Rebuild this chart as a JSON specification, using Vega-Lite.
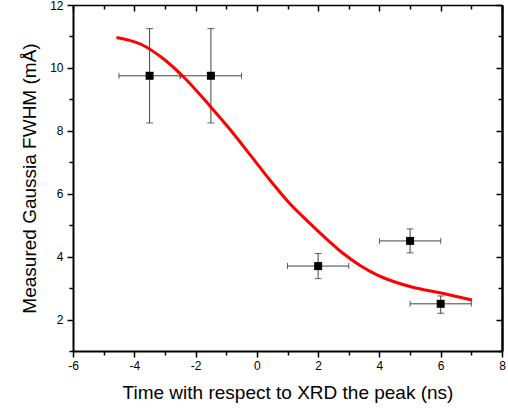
{
  "$schema": "https://vega.github.io/schema/vega-lite/v6.json",
  "width": 429,
  "height": 346,
  "autosize": "none",
  "padding": {"left": 73, "top": 5, "right": 6, "bottom": 64},
  "background": "white",
  "config": {"view": {"stroke": null}},
  "datasets": {
    "pts": [
      {"x": -3.5, "y": 9.75, "xlo": -4.5, "xhi": -2.5, "ylo": 8.25, "yhi": 11.25},
      {"x": -1.5, "y": 9.75, "xlo": -2.5, "xhi": -0.5, "ylo": 8.25, "yhi": 11.25},
      {"x": 2, "y": 3.7, "xlo": 1, "xhi": 3, "ylo": 3.3, "yhi": 4.1},
      {"x": 5, "y": 4.5, "xlo": 4, "xhi": 6, "ylo": 4.12, "yhi": 4.88},
      {"x": 6, "y": 2.5, "xlo": 5, "xhi": 7, "ylo": 2.2, "yhi": 2.75}
    ],
    "fit": [
      {"x": -4.58, "y": 10.97},
      {"x": -3.8, "y": 10.76},
      {"x": -3.0, "y": 10.25},
      {"x": -2.35, "y": 9.67},
      {"x": -1.54, "y": 8.8},
      {"x": -0.88, "y": 8.05},
      {"x": -0.23, "y": 7.25},
      {"x": 0.42, "y": 6.44},
      {"x": 1.08, "y": 5.68},
      {"x": 1.73, "y": 5.06},
      {"x": 2.28, "y": 4.56},
      {"x": 2.82, "y": 4.1},
      {"x": 3.37, "y": 3.72},
      {"x": 3.92, "y": 3.42},
      {"x": 4.46, "y": 3.21},
      {"x": 5.0, "y": 3.05},
      {"x": 5.5, "y": 2.94},
      {"x": 6.09, "y": 2.83},
      {"x": 7.02, "y": 2.62}
    ]
  },
  "resolve": {"axis": {"x": "independent", "y": "independent"}},
  "layer": [
    {
      "data": {"name": "pts"},
      "mark": {"type": "rule", "color": "#444444", "strokeWidth": 1},
      "encoding": {
        "x": {"field": "xlo", "type": "quantitative", "scale": {"domain": [-6, 8], "nice": false, "zero": false},
          "axis": {
            "orient": "bottom",
            "values": [-6, -5, -4, -3, -2, -1, 0, 1, 2, 3, 4, 5, 6, 7, 8],
            "labelExpr": "datum.value % 2 == 0 ? toString(datum.value) : ''",
            "labelOverlap": false,
            "labelFlush": false,
            "grid": false,
            "domainColor": "black",
            "domainWidth": 2,
            "tickColor": "black",
            "tickWidth": 1.5,
            "tickSize": {"condition": {"test": "datum.value % 2 == 0", "value": 6}, "value": 4},
            "labelFont": "Liberation Sans",
            "labelFontSize": 12,
            "labelColor": "black",
            "labelPadding": 3,
            "title": "Time with respect to XRD the peak (ns)",
            "titleFont": "Liberation Sans",
            "titleFontSize": 19,
            "titleFontWeight": "normal",
            "titleColor": "black",
            "titlePadding": 12
          }
        },
        "x2": {"field": "xhi"},
        "y": {"field": "y", "type": "quantitative", "scale": {"domain": [1, 12], "nice": false, "zero": false},
          "axis": {
            "orient": "left",
            "values": [1, 2, 3, 4, 5, 6, 7, 8, 9, 10, 11, 12],
            "labelExpr": "datum.value % 2 == 0 ? toString(datum.value) : ''",
            "labelOverlap": false,
            "labelFlush": false,
            "grid": false,
            "domainColor": "black",
            "domainWidth": 2,
            "tickColor": "black",
            "tickWidth": 1.5,
            "tickSize": {"condition": {"test": "datum.value % 2 == 0", "value": 6}, "value": 4},
            "labelFont": "Liberation Sans",
            "labelFontSize": 12,
            "labelColor": "black",
            "labelPadding": 4,
            "title": "Measured Gaussia FWHM (mÅ)",
            "titleFont": "Liberation Sans",
            "titleFontSize": 19,
            "titleFontWeight": "normal",
            "titleColor": "black",
            "titlePadding": 10
          }
        }
      }
    },
    {
      "data": {"name": "pts"},
      "mark": {"type": "rule", "color": "#444444", "strokeWidth": 1},
      "encoding": {
        "x": {"field": "x", "type": "quantitative", "scale": {"domain": [-6, 8], "nice": false, "zero": false},
          "axis": {
            "orient": "top",
            "values": [-6, -5, -4, -3, -2, -1, 0, 1, 2, 3, 4, 5, 6, 7, 8],
            "labels": false,
            "grid": false,
            "domainColor": "black",
            "domainWidth": 1.5,
            "tickColor": "black",
            "tickWidth": 1.5,
            "tickSize": {"condition": {"test": "datum.value % 2 == 0", "value": -6}, "value": -4},
            "title": null
          }
        },
        "y": {"field": "ylo", "type": "quantitative", "scale": {"domain": [1, 12], "nice": false, "zero": false},
          "axis": {
            "orient": "right",
            "values": [1, 2, 3, 4, 5, 6, 7, 8, 9, 10, 11, 12],
            "labels": false,
            "grid": false,
            "domainColor": "black",
            "domainWidth": 2.5,
            "tickColor": "black",
            "tickWidth": 1.5,
            "tickSize": {"condition": {"test": "datum.value % 2 == 0", "value": -6}, "value": -4},
            "title": null
          }
        },
        "y2": {"field": "yhi"}
      }
    },
    {
      "data": {"name": "pts"},
      "transform": [{"fold": ["xlo", "xhi"], "as": ["k", "xc"]}],
      "mark": {"type": "tick", "orient": "vertical", "color": "#222222", "thickness": 1, "size": 6},
      "encoding": {
        "x": {"field": "xc", "type": "quantitative", "axis": null},
        "y": {"field": "y", "type": "quantitative", "axis": null}
      }
    },
    {
      "data": {"name": "pts"},
      "transform": [{"fold": ["ylo", "yhi"], "as": ["k", "yc"]}],
      "mark": {"type": "tick", "orient": "horizontal", "color": "#222222", "thickness": 1, "size": 7},
      "encoding": {
        "x": {"field": "x", "type": "quantitative", "axis": null},
        "y": {"field": "yc", "type": "quantitative", "axis": null}
      }
    },
    {
      "data": {"name": "fit"},
      "mark": {"type": "line", "color": "#ff0000", "strokeWidth": 3, "interpolate": "monotone"},
      "encoding": {
        "x": {"field": "x", "type": "quantitative", "axis": null},
        "y": {"field": "y", "type": "quantitative", "axis": null}
      }
    },
    {
      "data": {"name": "pts"},
      "mark": {"type": "square", "color": "black", "opacity": 1, "filled": true, "size": 64},
      "encoding": {
        "x": {"field": "x", "type": "quantitative", "axis": null},
        "y": {"field": "y", "type": "quantitative", "axis": null}
      }
    }
  ]
}
